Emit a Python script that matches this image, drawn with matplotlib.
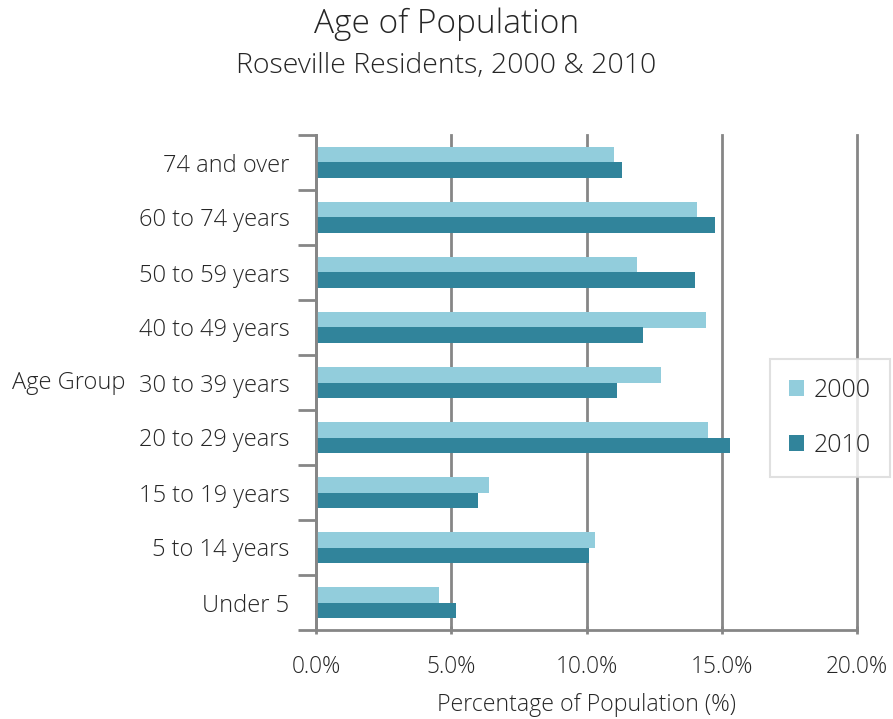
import matplotlib
matplotlib.use("Agg")
import matplotlib.pyplot as plt
import numpy as np
from matplotlib.ticker import FuncFormatter

plt.rcParams['font.family'] = ['Open Sans', 'DejaVu Sans']
plt.rcParams['font.weight'] = 'light'
plt.rcParams['axes.labelweight'] = 'light'

categories = ["Under 5", "5 to 14 years", "15 to 19 years", "20 to 29 years",
              "30 to 39 years", "40 to 49 years", "50 to 59 years",
              "60 to 74 years", "74 and over"]
values_2000 = [4.56, 10.30, 6.39, 14.50, 12.74, 14.43, 11.87, 14.08, 11.02]
values_2010 = [5.19, 10.10, 6.00, 15.31, 11.12, 12.10, 14.02, 14.76, 11.31]
series_names = ["2000", "2010"]
colors = ["#92CDDC", "#31849B"]
xticks = [0, 5, 10, 15, 20]

W, H = 893, 719
TXT = '#262626'
fig = plt.figure(figsize=(W/100, H/100), dpi=100)
ax = fig.add_axes([316/W, 1-630/H, (857-316)/W, (630-135)/H])

y = np.arange(len(categories))
h = 0.29
ax.barh(y + h/2, values_2000, height=h, color=colors[0], label=series_names[0], zorder=3)
ax.barh(y - h/2, values_2010, height=h, color=colors[1], label=series_names[1], zorder=3)

ax.set_xlim(0, 20)
ax.set_ylim(-0.5, len(categories) - 0.5)
ax.set_xticks(xticks)
ax.xaxis.set_major_formatter(FuncFormatter(lambda v, p: f"{v:.1f}%"))
ax.set_yticks(y)
ax.set_yticklabels(categories)
ax.set_yticks(np.arange(-0.5, len(categories)), minor=True)

grid_c = "#868686"
ax.grid(axis='x', color=grid_c, linewidth=2, zorder=0)
for gl in ax.get_xgridlines():
    gl.set_clip_on(False)
for s in ['top', 'right']:
    ax.spines[s].set_visible(False)
for s in ['left', 'bottom']:
    ax.spines[s].set_color(grid_c)
    ax.spines[s].set_linewidth(2)
    ax.spines[s].set_zorder(4)

ax.tick_params(axis='y', which='major', length=0, pad=19, labelsize=17, labelcolor=TXT)
ax.tick_params(axis='y', which='minor', length=13, width=2, color=grid_c, direction='out')
ax.tick_params(axis='x', which='major', length=6, width=2, color=grid_c, direction='inout',
               pad=15, labelsize=16.3, labelcolor=TXT)

ax.set_xlabel("Percentage of Population (%)", fontsize=16.7, color=TXT, labelpad=10,
              fontweight='light')
fig.text(12/W, 1-383/H, "Age Group", fontsize=17, color=TXT, ha='left', va='center')

fig.text(0.5, 1-24/H, "Age of Population", fontsize=24, color=TXT, ha='center', va='center')
fig.text(0.5, 1-66/H, "Roseville Residents, 2000 & 2010", fontsize=20.5, color=TXT, ha='center', va='center')

leg = ax.legend(loc='center left', bbox_to_anchor=(770/W, 1-418/H), bbox_transform=fig.transFigure,
                fontsize=18, frameon=True, fancybox=False, handlelength=0.6, handleheight=0.6,
                labelspacing=1.2, borderpad=0.75, handletextpad=0.4, borderaxespad=0)
leg.get_frame().set_edgecolor('#D9D9D9')
leg.get_frame().set_linewidth(1.5)
for t in leg.get_texts():
    t.set_color(TXT)

fig.savefig("out.png", dpi=100)
